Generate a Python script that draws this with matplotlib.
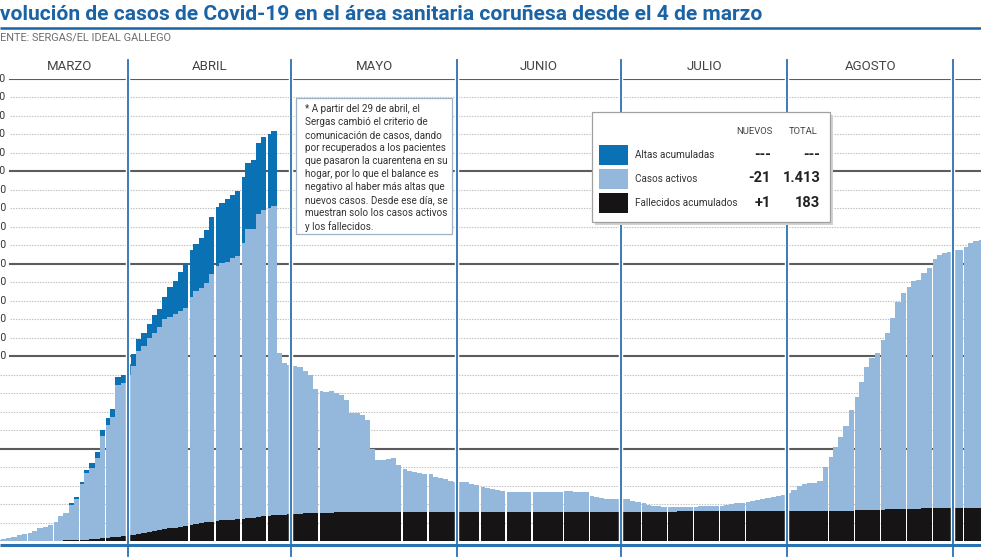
import numpy as np
import matplotlib
matplotlib.use("Agg")
import matplotlib.pyplot as plt
from matplotlib.patches import Rectangle
from matplotlib import transforms

# ---------------- data ----------------
title = "Evolución de casos de Covid-19 en el área sanitaria coruñesa desde el 4 de marzo"
source = "FUENTE: SERGAS/EL IDEAL GALLEGO"
months = ["MARZO", "ABRIL", "MAYO", "JUNIO", "JULIO", "AGOSTO"]
# month boundaries on the daily-bar axis (first value only frames the MARZO label)
month_edges = [2.8, 25.4, 56.8, 88.7, 120.2, 152.2, 184.1]

# cumulative deaths per daily bar
deaths = [0, 0, 0, 0, 0, 0, 0, 0, 0, 0, 0,
          1, 2, 3, 4, 5, 7, 8, 10, 12, 15,
          18, 21, 24, 27, 30, 34, 38, 43, 48, 53,
          58, 63, 68, 72, 77, 82, 87, 92, 97, 101,
          105, 108, 111, 114, 116, 118, 121, 124, 127, 130,
          133, 135, 138, 140, 142, 144, 146, 148, 149, 150,
          151, 152, 153, 154, 155, 155, 156, 157, 157, 158,
          158, 158, 158, 158, 158, 158, 158, 158, 158, 158,
          158, 158, 158, 158, 158, 158, 158, 158, 158, 158,
          159, 159, 159, 159, 159, 159, 159, 159, 159, 159,
          159, 159, 159, 159, 159, 159, 159, 159, 159, 159,
          159, 159, 159, 159, 159, 159, 159, 159, 159, 159,
          159, 159, 159, 159, 159, 159, 159, 159, 159, 159,
          160, 160, 160, 160, 160, 160, 160, 160, 160, 160,
          160, 160, 160, 160, 160, 160, 160, 160, 160, 160,
          160, 160, 160, 160, 160, 160, 160, 160, 160,
          161, 162, 163, 164, 165, 166, 167, 168, 169, 170,
          170, 171, 171, 172, 173, 174, 174, 175, 176, 176,
          177, 177, 178, 178, 179, 179, 180, 180, 181, 181]

# active cases per daily bar
active = [7, 11, 18, 23, 31, 38, 45, 56, 68, 77, 85,
          104, 133, 147, 189, 222, 299, 358, 387, 438, 553,
          610, 651, 820, 826, 870, 912, 990, 1012, 1049, 1071,
          1098, 1138, 1142, 1156, 1168, 1178, 1235, 1262, 1270, 1293,
          1340, 1380, 1392, 1398, 1414, 1424, 1490, 1563, 1560, 1638,
          1658, 1665, 1675, 880, 819, 808, 801, 792, 773, 748,
          670, 661, 655, 659, 648, 635, 607, 537, 534, 524,
          497, 338, 280, 280, 284, 289, 253, 230, 223, 215,
          208, 204, 204, 190, 181, 176, 169, 163, 163, 160,
          149, 144, 135, 130, 121, 117, 113, 104, 104, 104,
          104, 104, 104, 104, 104, 104, 104, 106, 111, 111,
          107, 107, 104, 84, 77, 74, 70, 68, 68, 69,
          67, 59, 54, 45, 36, 32, 29, 27, 27, 23,
          22, 26, 26, 26, 28, 29, 29, 31, 31, 35,
          40, 44, 47, 53, 58, 62, 66, 71, 76, 83,
          89, 98, 116, 138, 148, 152, 156, 167, 242, 295,
          348, 398, 458, 544, 614, 695, 772, 820, 849, 918,
          953, 1035, 1123, 1167, 1202, 1235, 1237, 1273, 1300, 1347,
          1371, 1383, 1388, 1396, 1396, 1413, 1431, 1444, 1449]

# cumulative discharges (only published until 28 April)
altas = [0, 0, 0, 0, 0, 0, 0, 0, 0, 0, 0, 0, 0, 0,
         11, 13, 14, 16, 23, 30, 33, 39, 40, 45,
         45, 60, 66, 66, 69, 77, 99, 99, 121, 166,
         181, 212, 243, 252, 253, 271, 289, 307, 318, 328,
         337, 342, 354, 357, 360, 375, 387, 397, 403, 407]

# bars that start a new 5-day block (thin white separation)
block_starts = [6, 11, 16, 21, 37, 42, 47, 52, 62, 78, 83, 93, 98, 103, 109,
                114, 124, 129, 134, 139, 144, 160, 165, 170, 175, 180, 186]

legend_labels = ["Altas acumuladas", "Casos activos", "Fallecidos acumulados"]
legend_new = ["---", "-21", "+1"]
legend_total = ["---", "1.413", "183"]
note = ("* A partir del 29 de abril, el\n"
        "Sergas cambió el criterio de\n"
        "comunicación de casos, dando\n"
        "por recuperados a los pacientes\n"
        "que pasaron la cuarentena en su\n"
        "hogar, por lo que el balance es\n"
        "negativo al haber más altas que\n"
        "nuevos casos. Desde ese día, se\n"
        "muestran solo los casos activos\n"
        "y los fallecidos.")

# ---------------- style ----------------
C_DARK = "#0b71b5"
C_LIGHT = "#94b8dc"
C_BLACK = "#171415"
C_LINE = "#2a72b2"
C_TITLE = "#1a63a5"
FONT = "Roboto"

W, H = 981, 560
Y0, YTOP = 541, 79

fig = plt.figure(figsize=(W / 100, H / 100), dpi=100)
fig.patch.set_facecolor("white")
ax = fig.add_axes([0, (H - Y0) / H, 1, (Y0 - YTOP) / H])
ax.set_xlim(0.808, 189.46)
ax.set_ylim(0, 2500)
ax.axis("off")

# grid and (edge-cropped) value labels
ytr = transforms.blended_transform_factory(ax.transAxes, ax.transData)
for v in np.arange(100, 2501, 100):
    major = v % 500 == 0
    xmin = 10 / W if v >= 1000 else 0
    if major:
        ax.axhline(v, xmin=xmin, xmax=1, color="#5c5c5c", lw=1.5, zorder=0.5)
    else:
        ax.axhline(v, xmin=xmin, xmax=1, color="#bdbdbd", lw=0.8,
                   ls=(0, (1.2, 1.2)), zorder=0.5)
    if v >= 1000:
        lab = f"{v:,}".replace(",", ".")
        ax.text(6 / W, v, lab, transform=ytr, ha="right", va="center",
                fontsize=7.5, color="#333333", family=FONT)

# bars
n = len(active)
xs = np.arange(n, dtype=float)
ws = np.ones(n)
xs[block_starts] += 0.25
ws[block_starts] = 0.75
d = np.array(deaths, dtype=float)
a = np.array(active, dtype=float)
m = len(altas)
ax.bar(xs, d, width=ws, align="edge", color=C_BLACK, lw=0, antialiased=False, zorder=2)
ax.bar(xs, a, width=ws, bottom=d, align="edge", color=C_LIGHT, lw=0, antialiased=False, zorder=2)
ax.bar(xs[:m], altas, width=ws[:m], bottom=(d + a)[:m], align="edge", color=C_DARK,
       lw=0, antialiased=False, zorder=2)

# month separators and labels
for e in month_edges[1:]:
    ax.axvline(e, ymin=0, ymax=1, color="white", lw=3.2, zorder=3)
    ax.axvline(e, ymin=-15 / (Y0 - YTOP), ymax=(Y0 - 60) / (Y0 - YTOP), color=C_LINE,
               lw=1.3, zorder=4, clip_on=False)
btr = transforms.blended_transform_factory(ax.transData, ax.transAxes)
for i, name in enumerate(months):
    cx = (month_edges[i] + month_edges[i + 1]) / 2
    ax.text(cx, (Y0 - 66) / (Y0 - YTOP), name, transform=btr, ha="center", va="center",
            fontsize=9.5, color="#444444", family=FONT)

# ---------------- overlay (pixel coordinates) ----------------
ov = fig.add_axes([0, 0, 1, 1], zorder=10)
ov.set_xlim(0, W)
ov.set_ylim(H, 0)
ov.axis("off")
ov.patch.set_alpha(0)

ov.plot([0, W], [545, 545], color=C_LINE, lw=2.2, solid_capstyle="butt")
ov.plot([0, W], [27.8, 27.8], color=C_TITLE, lw=1.8, solid_capstyle="butt")

fig.canvas.draw()
r = fig.canvas.get_renderer()


def twidth(s, **kw):
    t = ov.text(0, 0, s, **kw)
    wpx = t.get_window_extent(r).width
    t.remove()
    return wpx


# title: the first letter is cropped by the left edge, as in the source graphic
tk = dict(fontsize=14, fontweight="bold", family=FONT)
sub = title[1:]
fs = 14 * 765 / twidth(sub, **tk)
tk["fontsize"] = fs
off = twidth(title, **tk) - twidth(sub, **tk)
ov.text(-off, 20, title, ha="left", va="baseline", color=C_TITLE, **tk)

sk = dict(fontsize=8, family=FONT)
ssub = source[2:]
fs2 = 8 * 173 / twidth(ssub, **sk)
sk["fontsize"] = fs2
off2 = twidth(source, **sk) - twidth(ssub, **sk)
ov.text(-off2, 40.5, source, ha="left", va="baseline", color="#6e6e6e", **sk)

# note box
ov.add_patch(Rectangle((296, 98), 156, 136, facecolor="white", edgecolor="#9fb3c8", lw=0.9, zorder=5))
ov.text(305, 104, note, ha="left", va="top", fontsize=7.1, color="#333333", family=FONT,
        linespacing=1.37, zorder=6)

# legend box
ov.add_patch(Rectangle((594.5, 114.5), 238, 110, facecolor="#d2d2d2", edgecolor="none", zorder=5))
ov.add_patch(Rectangle((592, 112), 238, 110, facecolor="white", edgecolor="#a0a0a0", lw=0.9, zorder=5))
ov.text(754, 131.5, "NUEVOS", ha="center", va="center", fontsize=6.8, color="#444444", family=FONT, zorder=6)
ov.text(803, 131.5, "TOTAL", ha="center", va="center", fontsize=6.8, color="#444444", family=FONT, zorder=6)
sw_colors = [C_DARK, C_LIGHT, C_BLACK]
rows = [155, 178.5, 203]
for i in range(3):
    ov.add_patch(Rectangle((598.5, rows[i] - 10), 29, 20, facecolor=sw_colors[i], edgecolor="none", zorder=6))
    ov.text(635, rows[i], legend_labels[i], ha="left", va="center", fontsize=7.2, color="#333333",
            family=FONT, zorder=6)
    ov.text(771, rows[i], legend_new[i], ha="right", va="center", fontsize=10.5, fontweight="bold",
            color="#222222", family=FONT, zorder=6)
    ov.text(820.5, rows[i], legend_total[i], ha="right", va="center", fontsize=10.5, fontweight="bold",
            color="#222222", family=FONT, zorder=6)

fig.savefig("out.png", dpi=100, facecolor="white")
